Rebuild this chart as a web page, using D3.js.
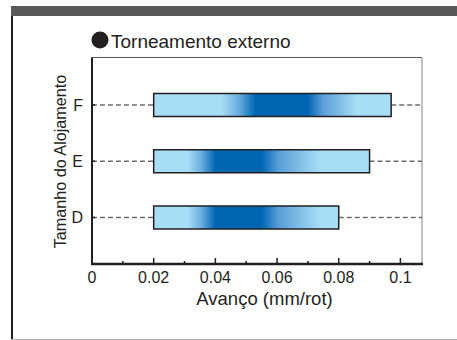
<!DOCTYPE html>
<html><head><meta charset="utf-8">
<script src="https://cdn.jsdelivr.net/npm/d3@7"></script>
<style>body{margin:0;background:#fff}svg{display:block;font-family:"Liberation Sans",Arial,sans-serif}</style>
</head><body><svg id="c" width="457" height="340"></svg>
<script>
const categories = ["F", "E", "D"];
const barStart = [0.02, 0.02, 0.02];
const barEnd = [0.097, 0.09, 0.08];
// recommended feed region (gradient: light -> dark core -> light)
const lightLow = [0.042, 0.031, 0.031];
const darkLow = [0.053, 0.040, 0.040];
const darkHigh = [0.070, 0.055, 0.055];
const lightHigh = [0.086, 0.074, 0.074];
const majorTicks = [0, 0.02, 0.04, 0.06, 0.08, 0.1];
const minorTicks = [0.01, 0.03, 0.05, 0.07, 0.09];
const legendLabel = "Torneamento externo";
const xTitle = "Avanço (mm/rot)";
const yTitle = "Tamanho do Alojamento";

const svg = d3.select("#c");
const L = 92, R = 422, T = 57.5, B = 264;
const x = d3.scaleLinear().domain([0, 0.107]).range([L, R]);
const y = d3.scalePoint().domain(categories).range([105, 217.5]);
const light = "#a8ddf6", dark = "#0066b3";

// frame
svg.append("rect").attr("x", 11).attr("y", 6).attr("width", 446).attr("height", 10).attr("fill", "#58595b");
svg.append("line").attr("x1", 12).attr("x2", 12).attr("y1", 16).attr("y2", 339).attr("stroke", "#231f20").attr("stroke-width", 2);
svg.append("line").attr("x1", 11).attr("x2", 457).attr("y1", 339.5).attr("y2", 339.5).attr("stroke", "#b5b5b5").attr("stroke-width", 1);

// legend
svg.append("circle").attr("cx", 100).attr("cy", 40).attr("r", 8.5).attr("fill", "#231f20");
svg.append("text").attr("x", 111).attr("y", 47.5).attr("font-size", 19).attr("fill", "#231f20").text(legendLabel);

// plot border top/right
svg.append("line").attr("x1", L).attr("x2", R).attr("y1", T).attr("y2", T).attr("stroke", "#555").attr("stroke-width", 1);
svg.append("line").attr("x1", R).attr("x2", R).attr("y1", T).attr("y2", B).attr("stroke", "#999").attr("stroke-width", 1.2);

// gradients
const defs = svg.append("defs");
categories.forEach((c, i) => {
  const g = defs.append("linearGradient").attr("id", "g" + i)
    .attr("gradientUnits", "userSpaceOnUse")
    .attr("x1", x(barStart[i])).attr("x2", x(barEnd[i])).attr("y1", 0).attr("y2", 0);
  const w = x(barEnd[i]) - x(barStart[i]);
  const f = v => Math.max(0, Math.min(1, (x(v) - x(barStart[i])) / w));
  g.append("stop").attr("offset", 0).attr("stop-color", light);
  g.append("stop").attr("offset", f(lightLow[i])).attr("stop-color", light);
  g.append("stop").attr("offset", f((lightLow[i] + darkLow[i]) / 2)).attr("stop-color", "#6aaee0");
  g.append("stop").attr("offset", f(darkLow[i])).attr("stop-color", dark);
  g.append("stop").attr("offset", f(darkHigh[i])).attr("stop-color", dark);
  g.append("stop").attr("offset", f(darkHigh[i] + (lightHigh[i] - darkHigh[i]) * 0.3)).attr("stop-color", "#5a9fd8");
  g.append("stop").attr("offset", f(lightHigh[i])).attr("stop-color", light);
  g.append("stop").attr("offset", 1).attr("stop-color", light);
});

// dashed guides
categories.forEach((c, i) => {
  svg.append("line").attr("x1", L).attr("x2", x(barStart[i])).attr("y1", y(c)).attr("y2", y(c))
    .attr("stroke", "#6d6e71").attr("stroke-width", 1.3).attr("stroke-dasharray", "5,3");
  svg.append("line").attr("x1", x(barEnd[i])).attr("x2", R).attr("y1", y(c)).attr("y2", y(c))
    .attr("stroke", "#6d6e71").attr("stroke-width", 1.3).attr("stroke-dasharray", "5,3");
});

// bars
const bh = 23;
svg.selectAll("rect.bar").data(categories).join("rect").attr("class", "bar")
  .attr("x", (c, i) => x(barStart[i])).attr("y", c => y(c) - bh / 2)
  .attr("width", (c, i) => x(barEnd[i]) - x(barStart[i])).attr("height", bh)
  .attr("fill", (c, i) => `url(#g${i})`).attr("stroke", "#231f20").attr("stroke-width", 1.5);

// y axis
svg.append("line").attr("x1", L).attr("x2", L).attr("y1", T).attr("y2", B).attr("stroke", "#231f20").attr("stroke-width", 2);
categories.forEach(c => {
  svg.append("line").attr("x1", L).attr("x2", L + 3).attr("y1", y(c)).attr("y2", y(c)).attr("stroke", "#231f20").attr("stroke-width", 1.5);
  svg.append("text").attr("x", 83).attr("y", y(c) + 5.5).attr("text-anchor", "end").attr("font-size", 16).attr("fill", "#231f20").text(c);
});

// x axis
svg.append("line").attr("x1", L - 1).attr("x2", R + 1).attr("y1", B).attr("y2", B).attr("stroke", "#231f20").attr("stroke-width", 2.5);
majorTicks.forEach(t => {
  svg.append("line").attr("x1", x(t)).attr("x2", x(t)).attr("y1", B).attr("y2", B - 6).attr("stroke", "#231f20").attr("stroke-width", 1.5);
  svg.append("text").attr("x", x(t)).attr("y", 282.5).attr("text-anchor", "middle").attr("font-size", 16).attr("fill", "#231f20").text(d3.format("~g")(t));
});
minorTicks.forEach(t => {
  svg.append("line").attr("x1", x(t)).attr("x2", x(t)).attr("y1", B).attr("y2", B - 3).attr("stroke", "#231f20").attr("stroke-width", 1.5);
});

// titles
svg.append("text").attr("x", 264.5).attr("y", 305).attr("text-anchor", "middle").attr("font-size", 18.5).attr("fill", "#231f20").text(xTitle);
svg.append("text").attr("transform", "translate(66,161.5) rotate(-90)").attr("text-anchor", "middle").attr("font-size", 16.2).attr("fill", "#231f20").text(yTitle);
</script></body></html>
